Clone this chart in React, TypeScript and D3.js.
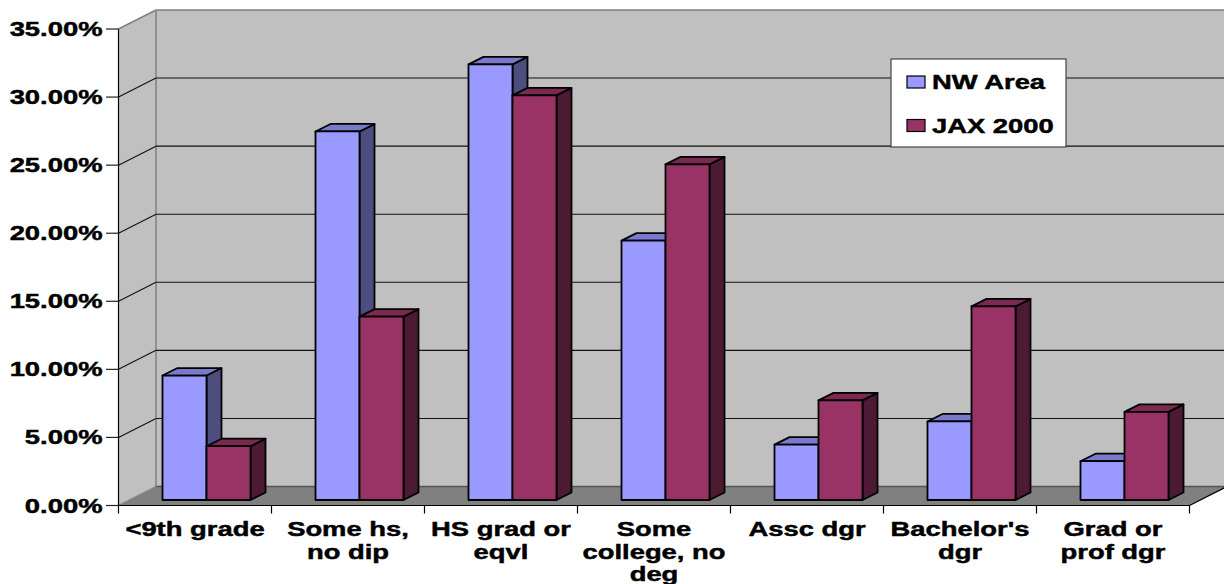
import React from "react";
import * as d3 from "d3";

const categories = [["<9th grade"], ["Some hs,", "no dip"], ["HS grad or", "eqvl"], ["Some", "college, no", "deg"], ["Assc dgr"], ["Bachelor's", "dgr"], ["Grad or", "prof dgr"]];
const nwArea = [9.14, 27.07, 32.0, 19.05, 4.07, 5.77, 2.85];
const jax2000 = [3.95, 13.47, 29.72, 24.65, 7.32, 14.22, 6.47];
const yTicks = [0, 5, 10, 15, 20, 25, 30, 35];
const seriesNames = ["NW Area", "JAX 2000"];

const W = 1224, H = 584;
const X0 = 118.5, X1 = 1189.5, Y0 = 505.5, Y1 = 29;
const DX = 37.5, DY = 19;
const y = d3.scaleLinear().domain([0, 35]).range([Y0, Y1]);
const x = d3.scaleBand<number>().domain(d3.range(7)).range([X0, X1]).paddingInner(0).paddingOuter(0);
const barW = 44, bx = 11.5, by = 5.5, dbx = 15, dby = 7.5;
const colors = [
  { front: "#9999ff", side: "#4d4d80", top: "#7a7acc" },
  { front: "#993366", side: "#4d1a33", top: "#7a2952" },
];
const poly = (p: number[][]) => p.map((q) => q.join(",")).join(" ");
const font = { fontFamily: "'Liberation Sans', Arial, sans-serif", fontWeight: 700, fontSize: 20, fill: "#000", stroke: "#000", strokeWidth: 0.45 } as const;
const SX = 1.37;

function T({ x: tx, y: ty, anchor, children }: any) {
  return (
    <text transform={`translate(${tx},${ty}) scale(${SX},1)`} textAnchor={anchor} {...font}>
      {children}
    </text>
  );
}

function Bar({ cat, s, v }: { cat: number; s: number; v: number }) {
  const left = x(cat)! + (x.bandwidth() - 2 * barW) / 2 + bx + s * barW;
  const right = left + barW;
  const base = Y0 - by;
  const top = base - (Y0 - y(v));
  const c = colors[s];
  const st = { stroke: "#000", strokeWidth: 1.8, strokeLinejoin: "round" as const };
  return (
    <g>
      <polygon points={poly([[right, top], [right + dbx, top - dby], [right + dbx, base - dby], [right, base]])} fill={c.side} {...st} />
      <polygon points={poly([[left, top], [left + dbx, top - dby], [right + dbx, top - dby], [right, top]])} fill={c.top} {...st} />
      <rect x={left} y={top} width={barW} height={base - top} fill={c.front} {...st} />
    </g>
  );
}

export default function App() {
  return (
    <svg width={W} height={H} viewBox={`0 0 ${W} ${H}`} style={{ position: "absolute", left: 0, top: 0, display: "block", background: "#fff" }}>
      <polygon points={poly([[X0 + DX, Y1 - DY], [X1 + DX, Y1 - DY], [X1 + DX, Y0 - DY], [X0 + DX, Y0 - DY]])} fill="#c0c0c0" />
      <polygon points={poly([[X0, Y1], [X0 + DX, Y1 - DY], [X0 + DX, Y0 - DY], [X0, Y0]])} fill="#c0c0c0" />
      <polygon points={poly([[X0, Y0], [X0 + DX, Y0 - DY], [X1 + DX, Y0 - DY], [X1, Y0]])} fill="#808080" />
      <line x1={X0} y1={Y1} x2={X0 + DX} y2={Y1 - DY} stroke="#808080" strokeWidth={1.5} />
      <line x1={X0 + DX} y1={Y1 - DY} x2={W} y2={Y1 - DY} stroke="#808080" strokeWidth={1.5} />
      <line x1={X0 + DX} y1={Y1 - DY} x2={X0 + DX} y2={Y0 - DY} stroke="#808080" strokeWidth={1.5} />
      <line x1={X0} y1={Y0} x2={X0 + DX} y2={Y0 - DY} stroke="#808080" strokeWidth={1.2} />
      <line x1={X0 + DX} y1={Y0 - DY} x2={W} y2={Y0 - DY} stroke="#555" strokeWidth={1.5} />
      <line x1={X1} y1={Y0} x2={X1 + DX} y2={Y0 - DY} stroke="#000" strokeWidth={1.2} />
      {yTicks.filter((t) => t > 0 && t < 35).map((t) => (
        <g key={t}>
          <line x1={X0} y1={y(t)} x2={X0 + DX} y2={y(t) - DY} stroke="#111" strokeWidth={1.1} />
          <line x1={X0 + DX} y1={y(t) - DY} x2={W} y2={y(t) - DY} stroke="#111" strokeWidth={1.1} />
        </g>
      ))}
      <line x1={X0} y1={Y1} x2={X0} y2={Y0} stroke="#000" strokeWidth={1.2} />
      <line x1={X0} y1={Y0} x2={X1} y2={Y0} stroke="#000" strokeWidth={1.2} />
      {yTicks.map((t) => (
        <g key={t}>
          <line x1={106} y1={y(t)} x2={X0} y2={y(t)} stroke="#222" strokeWidth={1.2} />
          <T x={102.5} y={y(t) + 7} anchor="end">
            {t.toFixed(2)}%
          </T>
        </g>
      ))}
      {d3.range(8).map((i) => {
        const px = i < 7 ? x(i)! : X1;
        return <line key={i} x1={px} y1={Y0} x2={px} y2={513.5} stroke="#000" strokeWidth={1.2} />;
      })}
      {categories.map((lines, i) => (
        <g key={i}>
          {lines.map((l, j) => (
            <T key={j} x={x(i)! + x.bandwidth() / 2} y={536 + j * 22.5} anchor="middle">
              {l}
            </T>
          ))}
        </g>
      ))}
      {categories.map((_, i) => (
        <g key={i}>
          <Bar cat={i} s={0} v={nwArea[i]} />
          <Bar cat={i} s={1} v={jax2000[i]} />
        </g>
      ))}
      <rect x={891} y={59} width={175} height={88} fill="#fff" stroke="#444" strokeWidth={1.2} />
      {seriesNames.map((n, i) => (
        <g key={n}>
          <rect x={907} y={76 + i * 43.5} width={18} height={12} fill={colors[i].front} stroke="#000" strokeWidth={1.2} />
          <T x={932} y={89 + i * 43.5} anchor="start">
            {n}
          </T>
        </g>
      ))}
    </svg>
  );
}
